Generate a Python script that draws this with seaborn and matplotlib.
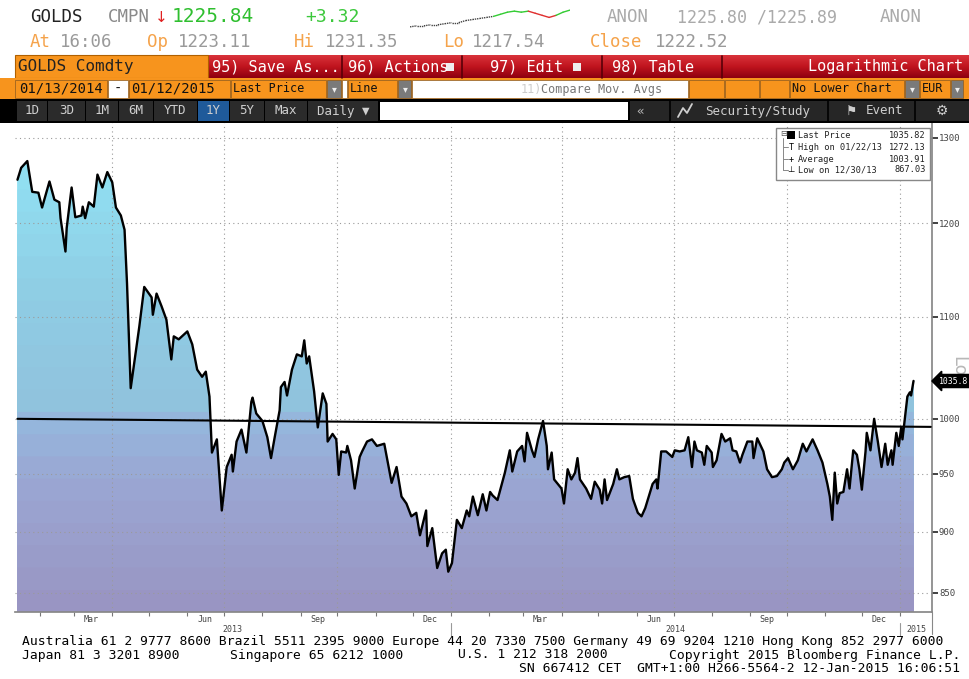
import numpy as np
import pandas as pd
import matplotlib
matplotlib.use("Agg")
import matplotlib.pyplot as plt
import matplotlib.dates as mdates
from matplotlib.colors import LinearSegmentedColormap
from matplotlib.patches import Rectangle
from matplotlib.lines import Line2D
from matplotlib.ticker import NullLocator
import seaborn as sns

sns.set_theme(style="white")
plt.rcParams["font.family"] = ["DejaVu Sans Mono", "DejaVu Sans"]

# GOLDS Comdty, last price in EUR
dates = [
    "2013-01-14", "2013-01-17", "2013-01-22", "2013-01-26", "2013-01-31", "2013-02-03",
    "2013-02-09", "2013-02-13", "2013-02-17", "2013-02-18", "2013-02-22", "2013-02-23",
    "2013-02-27", "2013-03-02", "2013-03-07", "2013-03-08", "2013-03-10", "2013-03-13",
    "2013-03-17", "2013-03-20", "2013-03-24", "2013-03-28", "2013-04-01", "2013-04-04",
    "2013-04-08", "2013-04-11", "2013-04-13", "2013-04-16", "2013-04-20", "2013-04-23",
    "2013-04-27", "2013-05-03", "2013-05-04", "2013-05-07", "2013-05-11", "2013-05-15",
    "2013-05-19", "2013-05-21", "2013-05-25", "2013-06-01", "2013-06-05", "2013-06-09",
    "2013-06-13", "2013-06-16", "2013-06-19", "2013-06-21", "2013-06-25", "2013-06-29",
    "2013-07-03", "2013-07-07", "2013-07-08", "2013-07-11", "2013-07-15", "2013-07-19",
    "2013-07-23", "2013-07-24", "2013-07-27", "2013-08-01", "2013-08-05", "2013-08-08",
    "2013-08-11", "2013-08-15", "2013-08-16", "2013-08-19", "2013-08-21", "2013-08-25",
    "2013-08-29", "2013-09-02", "2013-09-04", "2013-09-06", "2013-09-08", "2013-09-12",
    "2013-09-15", "2013-09-19", "2013-09-22", "2013-09-23", "2013-09-27", "2013-09-30",
    "2013-10-02", "2013-10-04", "2013-10-08", "2013-10-09", "2013-10-12", "2013-10-15",
    "2013-10-19", "2013-10-21", "2013-10-25", "2013-10-29", "2013-11-02", "2013-11-08",
    "2013-11-14", "2013-11-18", "2013-11-22", "2013-11-26", "2013-11-30", "2013-12-04",
    "2013-12-07", "2013-12-12", "2013-12-13", "2013-12-17", "2013-12-21", "2013-12-25",
    "2013-12-28", "2013-12-30",
    "2014-01-02", "2014-01-06", "2014-01-10", "2014-01-14", "2014-01-16", "2014-01-19",
    "2014-01-23", "2014-01-27", "2014-01-30", "2014-02-02", "2014-02-04", "2014-02-08",
    "2014-02-14", "2014-02-18", "2014-02-20", "2014-02-24", "2014-02-28", "2014-03-02",
    "2014-03-04", "2014-03-08", "2014-03-10", "2014-03-13", "2014-03-17", "2014-03-20",
    "2014-03-21", "2014-03-24", "2014-03-26", "2014-04-01", "2014-04-03", "2014-04-06",
    "2014-04-09", "2014-04-12", "2014-04-14", "2014-04-16", "2014-04-21", "2014-04-25",
    "2014-04-28", "2014-05-02", "2014-05-04", "2014-05-06", "2014-05-08", "2014-05-13",
    "2014-05-16", "2014-05-18", "2014-05-22", "2014-05-26", "2014-05-29", "2014-06-02",
    "2014-06-05", "2014-06-08", "2014-06-12", "2014-06-14", "2014-06-17", "2014-06-18",
    "2014-06-21", "2014-06-25", "2014-06-30", "2014-07-02", "2014-07-06", "2014-07-10",
    "2014-07-13", "2014-07-16", "2014-07-18", "2014-07-20", "2014-07-24", "2014-07-26",
    "2014-07-28", "2014-08-01", "2014-08-02", "2014-08-05", "2014-08-09", "2014-08-12",
    "2014-08-16", "2014-08-18", "2014-08-21", "2014-08-24", "2014-08-26", "2014-08-30",
    "2014-09-03", "2014-09-04", "2014-09-07", "2014-09-12", "2014-09-15", "2014-09-19",
    "2014-09-23", "2014-09-27", "2014-09-29", "2014-10-02", "2014-10-06", "2014-10-10",
    "2014-10-14", "2014-10-17", "2014-10-22", "2014-10-26", "2014-10-30", "2014-11-03",
    "2014-11-05", "2014-11-07", "2014-11-09", "2014-11-11", "2014-11-13", "2014-11-16",
    "2014-11-19", "2014-11-21", "2014-11-24", "2014-11-27", "2014-11-29", "2014-12-01",
    "2014-12-04", "2014-12-05", "2014-12-08", "2014-12-11", "2014-12-14", "2014-12-17",
    "2014-12-20", "2014-12-22", "2014-12-25", "2014-12-26", "2014-12-29", "2014-12-31",
    "2015-01-02", "2015-01-03", "2015-01-07", "2015-01-09", "2015-01-10", "2015-01-12",
]
prices = [
    1250, 1264, 1272, 1236, 1235, 1218,
    1248, 1227, 1224, 1206, 1169, 1195,
    1241, 1207, 1209, 1219, 1206, 1224,
    1219, 1256, 1241, 1259, 1247, 1218,
    1209, 1193, 1135, 1029, 1063, 1090,
    1131, 1120, 1102, 1124, 1111, 1097,
    1057, 1080, 1077, 1085, 1072, 1047,
    1040, 1045, 1021, 969, 981, 918,
    956, 967, 952, 979, 990, 969,
    1016, 1020, 1005, 998, 983, 964,
    983, 1008, 1030, 1035, 1022, 1047,
    1062, 1060, 1076, 1053, 1060, 1026,
    992, 1024, 1014, 979, 986, 981,
    949, 970, 969, 975, 962, 937,
    965, 970, 979, 981, 975, 977,
    942, 956, 930, 924, 913, 916,
    897, 918, 888, 903, 870, 882,
    885, 867,
    874, 910, 903, 918, 913, 930,
    914, 932, 918, 934, 931, 927,
    951, 971, 952, 970, 975, 961,
    987, 971, 965, 981, 998, 975,
    954, 969, 945, 937, 924, 954,
    945, 951, 964, 945, 937, 928,
    943, 936, 924, 945, 927, 941,
    954, 945, 947, 948, 928, 916,
    913, 920, 934, 941, 945, 937,
    970, 970, 965, 971, 970, 971,
    983, 956, 979, 971, 969, 958,
    975, 969, 956, 962, 986, 979,
    982, 971, 970, 960, 967, 979,
    979, 964, 982, 970, 954, 947,
    948, 954, 960, 964, 954, 962,
    977, 970, 981, 971, 960, 941,
    930, 910, 951, 924, 933, 934,
    954, 937, 971, 967, 954, 936,
    970, 987, 971, 1000, 979, 956,
    977, 958, 971, 958, 987, 975,
    992, 981, 1021, 1025, 1022, 1036,
]

# hand drawn trend line
trend_dates = ["2013-01-14", "2015-01-26"]
trend_values = [1000, 992.5]

y_ticks = [850, 900, 950, 1000, 1100, 1200, 1300]
grid_dates = ["2013-04-01", "2013-07-01", "2013-10-01", "2014-01-01",
              "2014-04-01", "2014-07-01", "2014-10-01", "2015-01-01"]
year_labels = ["2013", "2014", "2015"]
year_starts = ["2014-01-01", "2015-01-01"]

legend_rows = [("Last Price", "1035.82"), ("High on 01/22/13", "1272.13"),
               ("Average", "1003.91"), ("Low on 12/30/13", "867.03")]

spark_values = [3, 4, 4, 5, 5, 6, 7, 7, 9, 10, 11, 12, 13, 15, 17, 18, 17, 18, 16, 14, 12, 14, 17, 19]
spark_colors = ["#444444"] * 12 + ["#33cc33"] * 5 + ["#e03030"] * 4 + ["#33cc33"] * 2

df = pd.DataFrame({"date": pd.to_datetime(dates), "price": prices})

W, H = 970, 679
fig = plt.figure(figsize=(W / 100, H / 100), dpi=100)
fig.patch.set_facecolor("white")


def fx(x):
    return x / W


def fy(y):
    return 1 - y / H


def box(x0, y0, x1, y1, fc, ec="none", lw=0.0, z=1):
    fig.add_artist(Rectangle((fx(x0), fy(y1)), (x1 - x0) / W, (y1 - y0) / H,
                             transform=fig.transFigure, facecolor=fc, edgecolor=ec, lw=lw, zorder=z))


def line(x0, y0, x1, y1, color, lw=1.0, z=2):
    fig.add_artist(Line2D([fx(x0), fx(x1)], [fy(y0), fy(y1)], transform=fig.transFigure,
                          color=color, lw=lw, zorder=z))


def txt(x, y, s, size, color, ha="left", z=3, **kw):
    fig.text(fx(x), fy(y), s, fontsize=size, color=color, ha=ha, va="center", zorder=z, **kw)


# ---------------- main chart ----------------
ax = fig.add_axes([fx(15), fy(612), (932 - 15) / W, (612 - 123) / H])
ax.set_yscale("log")
ymin, ymax = 835, 1318
x0 = pd.Timestamp("2013-01-12")
x1 = pd.Timestamp("2015-01-27")

# banded gradient fill under the price line: stacked layers, top colour first
cmap = LinearSegmentedColormap.from_list("bbg", [
    (0.0, "#9994c2"), (0.25, "#9aa5d2"), (0.38, "#96b5dc"), (0.42, "#90c2dd"),
    (0.65, "#8fcde4"), (0.85, "#90dcef"), (1.0, "#93e9f9")])
n_bands = 22
edges = np.geomspace(ymin, ymax, n_bands + 1)
p = df["price"].to_numpy(dtype=float)
for i in range(n_bands - 1, -1, -1):
    hi = edges[i + 1]
    c = cmap((i + 0.5) / n_bands)
    ax.fill_between(df["date"], ymin, np.minimum(p, hi), facecolor=c, edgecolor="none",
                    lw=0, zorder=1)

# dotted grid
for v in y_ticks:
    ax.axhline(v, color="#9a9a9a", ls=(0, (1, 3)), lw=0.8, zorder=2)
for d in grid_dates:
    ax.axvline(pd.Timestamp(d), color="#9a9a9a", ls=(0, (1, 3)), lw=0.8, zorder=2)

sns.lineplot(x=df["date"], y=df["price"], ax=ax, color="black", lw=1.7, zorder=5)
ax.plot(pd.to_datetime(trend_dates), trend_values, color="black", lw=1.5, zorder=4)

ax.set_xlim(x0, x1)
ax.set_ylim(ymin, ymax)
ax.set_xlabel("")
ax.set_ylabel("")

ax.yaxis.tick_right()
ax.set_yticks(y_ticks)
ax.set_yticklabels([str(v) for v in y_ticks])
ax.yaxis.set_minor_locator(NullLocator())
ax.tick_params(axis="y", which="major", direction="out", length=4, width=1.3,
               color="#333333", labelsize=6.5, labelcolor="#444444", pad=1)

ax.xaxis.set_major_locator(mdates.MonthLocator())
ax.xaxis.set_major_formatter(plt.NullFormatter())
ax.xaxis.set_minor_locator(mdates.MonthLocator(bymonth=[3, 6, 9, 12], bymonthday=15))
ax.xaxis.set_minor_formatter(mdates.DateFormatter("%b"))
ax.tick_params(axis="x", which="major", direction="out", length=3, width=0.8,
               color="#777777", bottom=True)
ax.tick_params(axis="x", which="minor", length=0, labelsize=6, labelcolor="#444444", pad=2)

for s in ["top", "left"]:
    ax.spines[s].set_visible(False)
ax.spines["bottom"].set_color("#888888")
ax.spines["right"].set_color("#888888")
ax.spines["right"].set_bounds(ymin, ymax)

# year labels centred on the visible part of each year, with separators
bounds = [x0] + [pd.Timestamp(d) for d in year_starts] + [x1]
trans = ax.get_xaxis_transform()
for lab, a, b in zip(year_labels, bounds[:-1], bounds[1:]):
    ax.text(a + (b - a) / 2, -0.036, lab, transform=trans, ha="center", va="center",
            fontsize=6, color="#444444")
for d in year_starts:
    ax.plot([pd.Timestamp(d)] * 2, [-0.023, -0.05], transform=trans, color="#999999",
            lw=0.8, clip_on=False)
ax.plot([1, 1], [0, -0.045], transform=ax.transAxes, color="#888888", lw=0.8, clip_on=False)

# legend box
box(776, 128, 930, 180, "white", ec="#888888", lw=1.0, z=3)
row_y = [135, 147, 159, 170]
for (lab, val), yy in zip(legend_rows, row_y):
    txt(798, yy, lab, 6.2, "#222222", z=4)
    txt(926, yy, val, 6.2, "#222222", ha="right", z=4)
line(783, 138, 783, 170, "#888888", 0.7, z=4)
for yy in row_y[1:]:
    line(783, yy, 788, yy, "#888888", 0.7, z=4)
txt(780, 134, "⊟", 6, "#555555", z=4, family="DejaVu Sans")
box(787, 131, 795, 139, "black", z=4)
txt(791, 147, "T", 6, "black", ha="center", z=4)
txt(791, 159, "+", 6, "black", ha="center", z=4)
txt(791, 170, "⊥", 6, "black", ha="center", z=4, family="DejaVu Sans")

# last price tag and side label
fig.text(fx(939), fy(381), "1035.8", fontsize=5.9, color="white", ha="left", va="center",
         bbox=dict(boxstyle="larrow,pad=0.25", fc="black", ec="black"), zorder=5)
fig.text(fx(958), fy(366), "Lo", fontsize=13, color="#b8b8b8", rotation=-90,
         ha="center", va="center", family="DejaVu Sans")

# ---------------- header ----------------
txt(30, 17, "GOLDS", 12.5, "#222222")
txt(108, 17, "CMPN", 12.5, "#8a8a8a")
txt(155, 17, "↓", 11, "#e02020", family="DejaVu Sans")
txt(172, 17, "1225.84", 14, "#2fbf2f")
txt(305, 17, "+3.32", 13, "#3cc83c")
txt(607, 17, "ANON", 12.5, "#aaaaaa")
txt(677, 17, "1225.80 /1225.89", 12, "#aaaaaa")
txt(880, 17, "ANON", 12.5, "#aaaaaa")

sp = fig.add_axes([fx(410), fy(30), 160 / W, 22 / H])
sp.axis("off")
for i, c in enumerate(spark_colors):
    sp.plot([i, i + 1], spark_values[i:i + 2], color=c, lw=1.0,
            ls=(0, (1, 0.6)) if c == "#444444" else "-")
sp.set_xlim(0, len(spark_values) - 1)
sp.set_ylim(0, 21)

orange_c = "#f5a34b"
grey_c = "#9a9a9a"
for x, s, c in [(30, "At", orange_c), (60, "16:06", grey_c), (147, "Op", orange_c),
                (178, "1223.11", grey_c), (294, "Hi", orange_c), (325, "1231.35", grey_c),
                (443, "Lo", orange_c), (472, "1217.54", grey_c), (590, "Close", orange_c),
                (655, "1222.52", grey_c)]:
    txt(x, 42, s, 12.5, c)

# red toolbar
bar = fig.add_axes([fx(208), fy(78), (W - 208) / W, 23 / H])
bar.axis("off")
red = LinearSegmentedColormap.from_list("red", ["#8e0010", "#c0141e", "#d8323a"])
bar.imshow(np.linspace(0, 1, 30).reshape(-1, 1), cmap=red, aspect="auto",
           origin="lower", extent=[0, 1, 0, 1])
bar.set_xlim(0, 1)
bar.set_ylim(0, 1)
box(15, 55, 208, 78, "#f7941d", ec="#b06000", lw=0.8)
txt(18, 67, "GOLDS Comdty", 11.5, "#222222")
for xs in [342, 462, 602, 722]:
    line(xs, 56, xs, 78, "#5a0008", 1.2)
txt(212, 67, "95) Save As...", 11, "white")
txt(348, 67, "96) Actions", 11, "white")
box(446, 63, 454, 71, "#eeeeee")
txt(490, 67, "97) Edit", 11, "white")
box(573, 63, 581, 71, "#eeeeee")
txt(612, 67, "98) Table", 11, "white")
txt(963, 67, "Logarithmic Chart", 11, "white", ha="right")

# orange options row
box(0, 78, W, 99, "#f7941d")
for a, b, fc in [(15, 107, "#f7941d"), (108, 128, "white"), (129, 230, "#f7941d"),
                 (231, 326, "#f7941d"), (327, 341, "#7a7a7a"), (342, 347, "white"),
                 (348, 397, "#f7941d"), (398, 411, "#7a7a7a"), (412, 688, "white"),
                 (689, 724, "#f7941d"), (725, 759, "#f7941d"), (760, 789, "#f7941d"),
                 (790, 904, "#f7941d"), (905, 919, "#7a7a7a"), (920, 950, "#f7941d"),
                 (951, 963, "#7a7a7a")]:
    box(a, 80, b, 98, fc, ec="#8a5a20", lw=0.5)
txt(19, 89, "01/13/2014", 10, "#111111")
txt(118, 89, "-", 10, "#111111", ha="center")
txt(131, 89, "01/12/2015", 10, "#111111")
txt(233, 89, "Last Price", 8.5, "#111111")
txt(350, 89, "Line", 8.5, "#111111")
for xd in [334, 405, 912, 957]:
    txt(xd, 89, "▾", 7, "#eeeeee", ha="center", family="DejaVu Sans")
txt(521, 89, "11)", 8.5, "#cccccc")
txt(541, 89, "Compare Mov. Avgs", 8.5, "#777777")
txt(792, 89, "No Lower Chart", 8.5, "#111111")
txt(922, 89, "EUR", 8.5, "#111111")

# black period row
box(0, 99, W, 123, "black")
for a, b, s in [(17, 47, "1D"), (48, 85, "3D"), (86, 118, "1M"), (119, 153, "6M"),
                (154, 197, "YTD"), (198, 229, "1Y"), (230, 264, "5Y"), (265, 307, "Max"),
                (308, 378, "Daily ▼")]:
    box(a, 101, b, 121, "#1f5a9a" if s == "1Y" else "#2b2b2b")
    txt((a + b) / 2, 111, s, 9, "#cfcfcf", ha="center")
box(380, 102, 628, 120, "white")
box(630, 101, W, 121, "#262626")
txt(640, 111, "«", 9, "#bbbbbb", ha="center")
for xs in [670, 828, 915]:
    line(xs, 101, xs, 121, "black", 1.2)
fig.add_artist(Line2D([fx(x) for x in [678, 683, 687, 692]], [fy(y) for y in [117, 108, 113, 104]],
                      transform=fig.transFigure, color="#cfcfcf", lw=1.3, zorder=2))
txt(705, 111, "Security/Study", 9, "#cfcfcf")
txt(846, 111, "⚑", 9, "#cfcfcf", family="DejaVu Sans")
txt(866, 111, "Event", 9, "#cfcfcf")
txt(942, 111, "⚙", 10, "#cfcfcf", ha="center", family="DejaVu Sans")

# ---------------- footer ----------------
foot = 9.4
txt(22, 641, "Australia 61 2 9777 8600 Brazil 5511 2395 9000 Europe 44 20 7330 7500 "
             "Germany 49 69 9204 1210 Hong Kong 852 2977 6000", foot, "black")
txt(22, 655, "Japan 81 3 3201 8900", foot, "black")
txt(230, 655, "Singapore 65 6212 1000", foot, "black")
txt(458, 655, "U.S. 1 212 318 2000", foot, "black")
txt(960, 655, "Copyright 2015 Bloomberg Finance L.P.", foot, "black", ha="right")
txt(960, 668, "SN 667412 CET  GMT+1:00 H266-5564-2 12-Jan-2015 16:06:51", foot, "black", ha="right")

fig.savefig("out.png", dpi=100)
